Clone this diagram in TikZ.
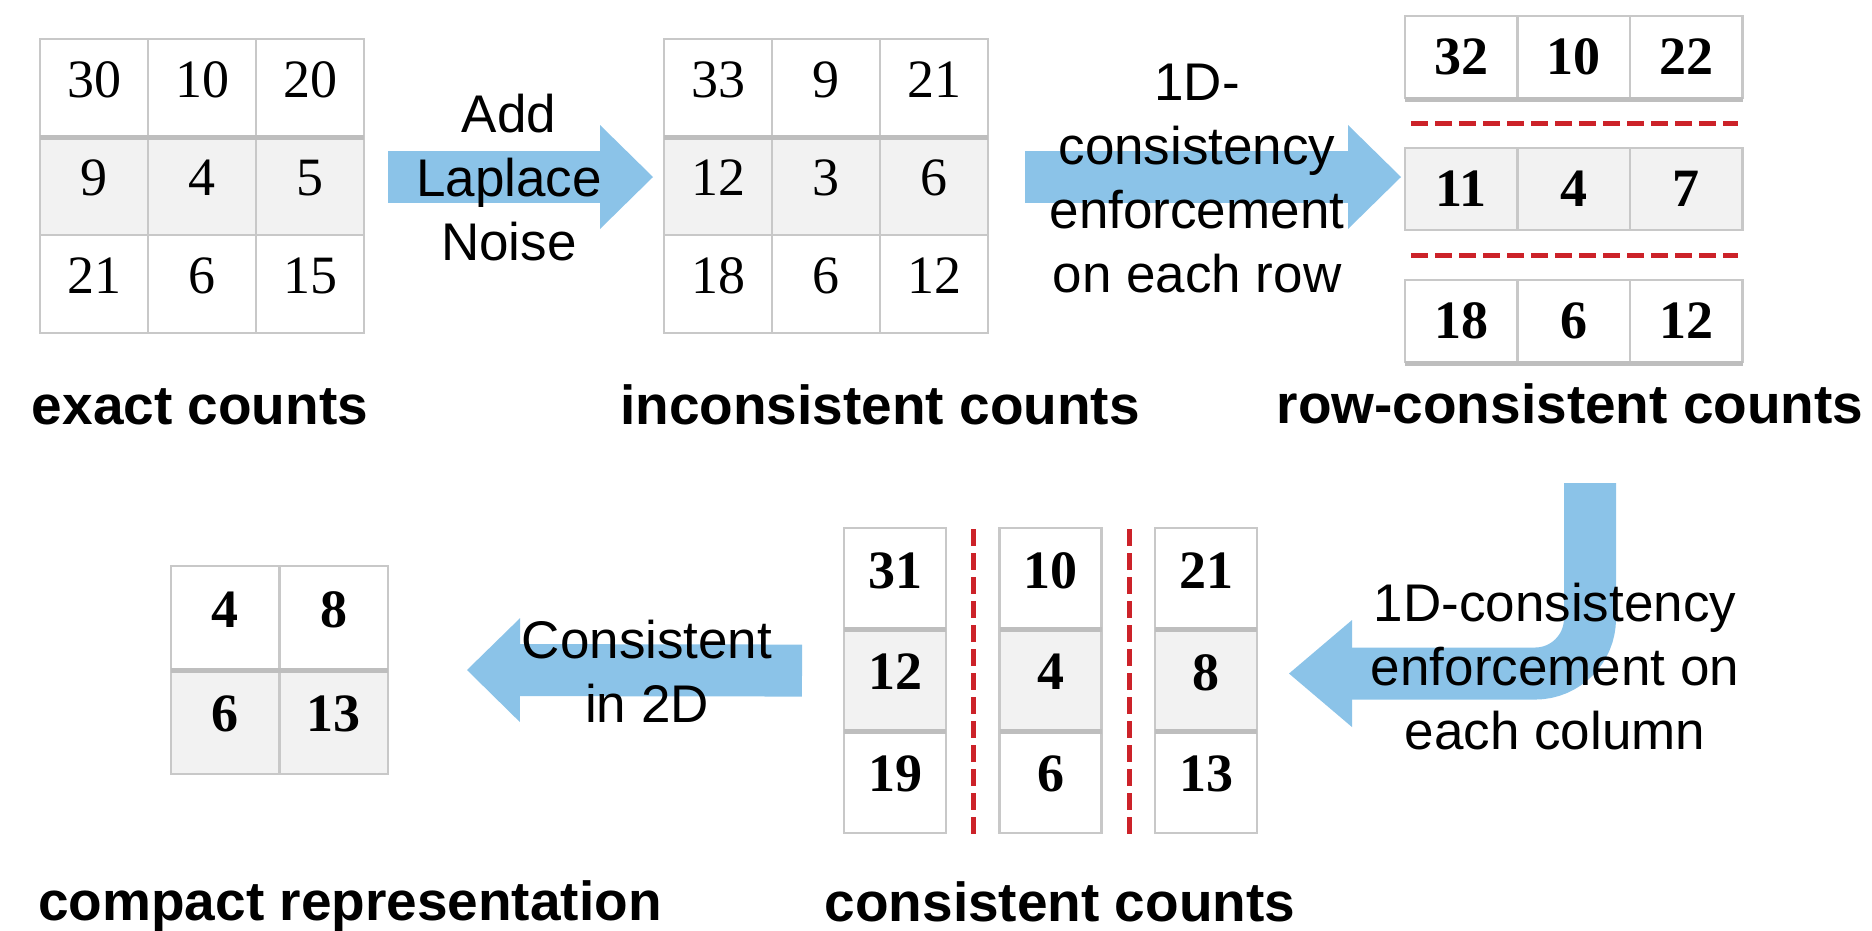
\documentclass[tikz,border=0pt]{standalone}
\usepackage{fontspec}
\setmainfont{Liberation Serif}
\setsansfont{Liberation Sans}
\usetikzlibrary{arrows.meta}

\definecolor{cellline}{RGB}{200,200,200}
\definecolor{cellshade}{RGB}{242,242,242}
\definecolor{sepgray}{RGB}{190,190,190}
\definecolor{arrowblue}{RGB}{139,195,232}
\definecolor{dashred}{RGB}{204,34,41}
\colorlet{cellfill1}{white}
\colorlet{cellfill2}{cellshade}
\colorlet{cellfill3}{white}

\newcommand{\numsize}{\fontsize{54}{60}\selectfont}
\newcommand{\txtsize}{\fontsize{53}{64}\selectfont}
\newcommand{\lblsize}{\fontsize{55}{66}\selectfont}

\tikzset{
  cell/.style={draw=cellline, line width=2.5pt, inner sep=0pt, outer sep=0pt,
    anchor=north west, font=\numsize},
  sqcell/.style={cell, text depth=17pt},
  boldcell/.style={font=\numsize\bfseries},
  sepline/.style={draw=sepgray, line width=5pt},
  reddash/.style={draw=dashred, line width=5pt, dash pattern=on 17pt off 7pt},
  bigarrow/.style={draw=arrowblue, line width=52pt,
    -{Triangle[length=53pt, width=104pt, line width=0pt]}},
  arrowtext/.style={font=\sffamily\txtsize, align=center, inner sep=0pt},
  lbl/.style={font=\sffamily\bfseries\lblsize, anchor=base, inner sep=0pt}
}

\begin{document}
\begin{tikzpicture}[x=1pt, y=-1pt]
  \useasboundingbox (0,0) rectangle (1872,930);

  % exact counts
  \foreach \p/\q/\s [count=\row] in {30/10/20, 9/4/5, 21/6/15}
    \foreach \v [count=\col] in {\p,\q,\s}
      \node[sqcell, minimum width=108pt, minimum height=98pt, fill=cellfill\row]
        (ex-\row-\col) at ({40+108*(\col-1)}, {39+98*(\row-1)}) {\v};
  \draw[sepline] (ex-2-1.north west) -- (ex-2-3.north east);

  % inconsistent counts
  \foreach \p/\q/\s [count=\row] in {33/9/21, 12/3/6, 18/6/12}
    \foreach \v [count=\col] in {\p,\q,\s}
      \node[sqcell, minimum width=108pt, minimum height=98pt, fill=cellfill\row]
        (in-\row-\col) at ({664+108*(\col-1)}, {39+98*(\row-1)}) {\v};
  \draw[sepline] (in-2-1.north west) -- (in-2-3.north east);

  % row-consistent counts
  \foreach \p/\q/\s [count=\row] in {32/10/22, 11/4/7, 18/6/12}
    \foreach \v [count=\col] in {\p,\q,\s}
      \node[cell, boldcell, minimum width=112.5pt, minimum height=82pt, fill=cellfill\row]
        (rc-\row-\col) at ({1405+112.5*(\col-1)}, {16+132*(\row-1)}) {\v};
  \draw[sepline] ([yshift=-1pt]rc-1-1.south west) -- ([yshift=-1pt]rc-1-3.south east);
  \draw[sepline] ([yshift=-1pt]rc-3-1.south west) -- ([yshift=-1pt]rc-3-3.south east);
  \draw[reddash] (1411,123) -- (1738,123);
  \draw[reddash] (1411,255) -- (1738,255);

  % consistent counts
  \foreach \p/\q/\s [count=\row] in {31/10/21, 12/4/8, 19/6/13}
    \foreach \v [count=\col] in {\p,\q,\s}
      \node[sqcell, boldcell, minimum width=102pt, minimum height=101.7pt, fill=cellfill\row]
        (cc-\row-\col) at ({844+155.5*(\col-1)}, {528+101.7*(\row-1)}) {\v};
  \foreach \col in {1,2,3} {
    \draw[sepline] (cc-2-\col.north west) -- (cc-2-\col.north east);
    \draw[sepline] (cc-2-\col.south west) -- (cc-2-\col.south east);
  }
  \draw[reddash] (973,529) -- (973,835);
  \draw[reddash] (1129,529) -- (1129,835);

  % compact representation
  \foreach \p/\q [count=\row] in {4/8, 6/13}
    \foreach \v [count=\col] in {\p,\q}
      \node[sqcell, boldcell, minimum width=108.5pt, minimum height=104pt, fill=cellfill\row]
        (cp-\row-\col) at ({171+108.5*(\col-1)}, {566+104*(\row-1)}) {\v};
  \draw[sepline] (cp-2-1.north west) -- (cp-2-2.north east);

  % arrows
  \coordinate (bendtop) at (1590,483);
  \draw[bigarrow] ([xshift=24pt, yshift=9pt]ex-2-3.east) -- ([xshift=-11pt, yshift=9pt]in-2-1.west);
  \draw[bigarrow] ([xshift=37pt, yshift=9pt]in-2-3.east) -- ([xshift=-4pt, yshift=12pt]rc-2-1.west);
  \draw[bigarrow, rounded corners=55pt, -{Triangle[length=63pt, width=107pt, line width=0pt]}]
    (bendtop) |- ([xshift=32pt, yshift=7pt]cc-2-3.east);
  \draw[bigarrow] ([xshift=-42pt, yshift=10pt]cc-2-1.west) -- ([xshift=79pt]cp-2-2.north east);

  \node[arrowtext] (noise) at (509,178) {Add\\Laplace\\Noise};
  \node[arrowtext] (rowfix) at (1197,179) {1D-\\consistency\\enforcement\\on each row};
  \node[arrowtext] (colfix) at (1555,667) {1D-consistency\\enforcement on\\each column};
  \node[arrowtext] (twod) at (647,671) {Consistent\\in 2D};

  % labels
  \node[lbl] (exlbl) at (200,424) {exact counts};
  \node[lbl] (inlbl) at (880,424) {inconsistent counts};
  \node[lbl] (rclbl) at (1570,423) {row-consistent counts};
  \node[lbl] (cplbl) at (350,920) {compact representation};
  \node[lbl] (cclbl) at (1060,921) {consistent counts};
\end{tikzpicture}
\end{document}
